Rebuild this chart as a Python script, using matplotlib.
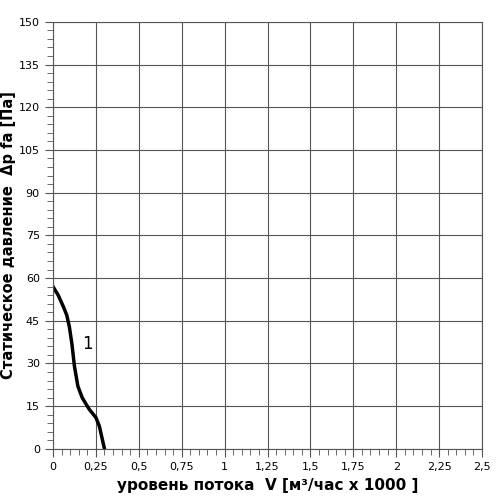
import matplotlib.pyplot as plt
from matplotlib.ticker import MultipleLocator, FuncFormatter

flow = [0.0, 0.03, 0.06, 0.08, 0.095, 0.11, 0.125, 0.145, 0.17, 0.21, 0.25, 0.27, 0.285, 0.30]
pressure = [57, 54, 50, 47, 43, 37, 29, 22, 18, 14, 11, 8, 4, 0]

fig = plt.figure(figsize=(5.0, 4.96), dpi=100)
ax = fig.add_axes([0.106, 0.095, 0.858, 0.861])
ax.plot(flow, pressure, color='black', lw=2.5)
ax.text(0.17, 35, '1', fontsize=12)

ax.set_xlim(0, 2.5)
ax.set_ylim(0, 150)
ax.xaxis.set_major_locator(MultipleLocator(0.25))
ax.xaxis.set_minor_locator(MultipleLocator(0.05))
ax.yaxis.set_major_locator(MultipleLocator(15))
ax.yaxis.set_minor_locator(MultipleLocator(3))
ax.xaxis.set_major_formatter(FuncFormatter(lambda v, p: f"{v:g}".replace('.', ',')))
ax.grid(True, which='major', color='#555555', lw=0.8)
ax.tick_params(which='both', labelsize=8, direction='out', color='#555555')
ax.tick_params(which='major', length=6)
ax.tick_params(which='minor', length=4)
for s in ax.spines.values():
    s.set_color('#555555')

ax.set_xlabel('уровень потока  V [м³/час x 1000 ]', fontsize=11, fontweight='bold')
ax.set_ylabel('Статическое давление  Δp fa [Па]', fontsize=10.5, fontweight='bold', labelpad=2)

fig.savefig('out.png')
